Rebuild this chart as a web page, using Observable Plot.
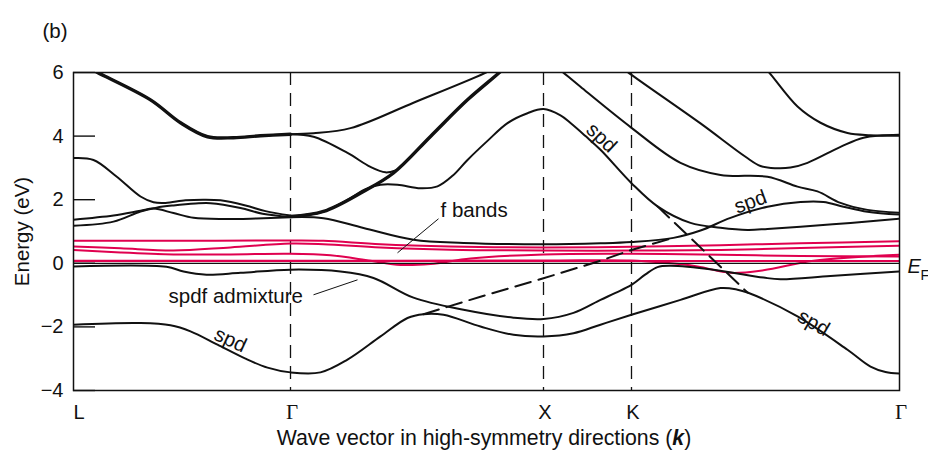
<!DOCTYPE html>
<html><head><meta charset="utf-8">
<script src="https://cdn.jsdelivr.net/npm/d3@7"></script>
<script src="https://cdn.jsdelivr.net/npm/@observablehq/plot@0.6"></script>
<style>body{margin:0;background:#fff;} #chart svg{display:block;}</style>
</head><body><div id="chart"></div>
<script>
// High-symmetry points (k in arbitrary path units) and labels
const symLabels = ["L", "Γ", "X", "K", "Γ"];
const symK = [0, 217, 470, 558, 826];
const yTicks = [-4, -2, 0, 2, 4, 6];

// Black (spd) bands: [k, E in eV]
const bandTopLeft = [[12,6.2],[24,6.0],[77,5.14],[107,4.42],[134,3.98],[160,3.95],[187,4.01],[217,4.06]];
const bandUp = [[217,4.06],[240,4.09],[277,4.25],[340,5.05],[414,6.02],[427,6.25]];
const bandDown = [[217,4.06],[240,3.98],[274,3.47],[297,3.03],[312,2.86],[322,2.92]];
const bandSteep = [[217,1.47],[250,1.63],[290,2.26],[320,2.84],[357,3.99],[394,5.14],[427,6.03],[434,6.25]];
const bandXPeak = [[217,1.47],[250,1.63],[277,2.05],[292,2.33],[307,2.47],[324,2.47],[347,2.36],[364,2.42],[379,2.75],[394,3.25],[414,3.85],[434,4.41],[454,4.72],[470,4.85],[487,4.65],[497,4.41],[512,4.0],[527,3.57],[558,2.52],[584,1.79],[617,1.27],[647,1.12],[674,1.05],[694,1.08],[727,1.15],[777,1.27],[826,1.4]];
const bandL1 = [[0,3.31],[20,3.25],[43,2.73],[67,2.1],[80,1.92],[92,1.9],[112,1.98],[130,2.0],[147,1.98],[172,1.82],[192,1.64],[217,1.5]];
const bandL2 = [[0,1.37],[40,1.5],[67,1.65],[80,1.72],[100,1.58],[120,1.43],[150,1.39],[183,1.41],[217,1.45]];
const bandL3 = [[0,1.18],[40,1.31],[67,1.63],[83,1.75],[100,1.82],[122,1.88],[137,1.89],[167,1.74],[189,1.56],[217,1.46]];
const bandB1 = [[217,1.45],[250,1.42],[290,1.11],[340,0.74],[390,0.64],[470,0.6],[527,0.63],[558,0.67],[600,0.8],[627,1.03],[657,1.43],[694,1.78],[727,1.93],[750,1.93],[770,1.78],[794,1.62],[826,1.53]];
const bandTK = [[482,6.2],[489,6.02],[507,5.55],[558,4.26],[607,3.16],[647,2.78],[694,2.72],[724,2.41],[744,2.26],[767,1.9],[794,1.68],[826,1.59]];
const bandTR1 = [[547,6.2],[554,6.02],[627,4.4],[672,3.35],[687,3.06],[702,2.99],[717,3.01],[734,3.16],[767,3.66],[790,3.95],[826,4.04]];
const bandTR2 = [[689,6.2],[695,6.02],[724,4.93],[747,4.42],[774,4.1],[797,4.03],[826,4.01]];
const bandS1 = [[0,-0.1],[93,-0.11],[110,-0.26],[133,-0.36],[167,-0.3],[217,-0.2],[267,-0.26],[300,-0.46],[340,-1.08],[390,-1.46],[440,-1.71],[470,-1.75],[500,-1.56],[527,-1.15],[542,-0.93],[558,-0.68],[572,-0.35],[584,-0.12],[597,-0.08],[640,-0.2],[690,-0.45],[707,-0.5],[757,-0.4],[826,-0.26]];
const bandS2 = [[0,-1.93],[67,-1.88],[97,-1.95],[117,-2.14],[144,-2.56],[172,-3.0],[194,-3.28],[217,-3.43],[247,-3.43],[274,-3.03],[307,-2.3],[334,-1.72],[350,-1.6],[370,-1.62],[407,-1.99],[440,-2.25],[470,-2.3],[500,-2.2],[527,-1.93],[558,-1.62],[607,-1.15],[647,-0.78],[664,-0.83],[674,-0.92],[724,-1.67],[774,-2.72],[797,-3.25],[812,-3.42],[826,-3.47]];
// Dashed (unhybridized spd) bands
const dashed1 = [[350,-1.6],[407,-1.05],[470,-0.47],[527,0.08],[558,0.42],[600,0.8]];
const dashed2 = [[584,1.79],[674,-0.92]];
// f bands (red)
const fBand1 = [[0,0.71],[127,0.71],[217,0.72],[250,0.71],[307,0.6],[377,0.53],[470,0.5],[558,0.52],[647,0.57],[727,0.63],[826,0.69]];
const fBand2 = [[0,0.53],[47,0.47],[100,0.4],[157,0.5],[217,0.62],[250,0.6],[307,0.5],[377,0.43],[470,0.4],[558,0.4],[647,0.42],[727,0.48],[826,0.55]];
const fBand3 = [[0,0.42],[47,0.34],[100,0.28],[157,0.28],[217,0.3],[257,0.25],[297,0.08],[327,-0.05],[357,-0.02],[397,0.15],[470,0.28],[558,0.3],[647,0.27],[727,0.23],[826,0.21]];
const fBand4 = [[0,0.08],[217,0.08],[470,0.09],[558,0.09],[587,0.03],[624,-0.1],[657,-0.3],[690,-0.22],[740,0.08],[826,0.27]];
const fBand5 = [[0,0.07],[826,0.07]];

// Annotations
const spdK = [157, 528, 677, 740];
const spdE = [-2.41, 3.95, 1.93, -1.87];
const spdAngle = [25, 43, -20, 30];
const noteText = ["f bands", "spdf admixture"];
const noteK = [367, 95];
const noteE = [1.66, -1.03];
const pointerK1 = [365, 240], pointerE1 = [1.4, -0.99];
const pointerK2 = [324, 284], pointerE2 = [0.33, -0.52];
const xTitle = "Wave vector in high-symmetry directions (k)";
const yTitle = "Energy (eV)";

const ink = "#111";
const red = "#e0004f";
const font = "'Liberation Sans', Arial, Helvetica, sans-serif";
const tickLen = 22; // inward tick length (k units = px here)

const band = (pts, o = {}) => Plot.line(pts, {x: d => d[0], y: d => d[1], curve: "catmull-rom", stroke: ink, strokeWidth: 2, clip: true, ...o});

const blackBands = [bandTopLeft, bandUp, bandDown, bandSteep, bandXPeak, bandL1, bandL2, bandL3, bandB1, bandTK, bandTR1, bandTR2, bandS1, bandS2];
const fBands = [fBand1, fBand2, fBand3, fBand4, fBand5];
const yMid = (yTicks[0] + yTicks[yTicks.length - 1]) / 2;

const chart = Plot.plot({
  width: 928, height: 454,
  marginLeft: 73, marginRight: 29, marginTop: 72, marginBottom: 64,
  x: {domain: [symK[0], symK[4]], axis: null},
  y: {domain: [yTicks[0], yTicks[yTicks.length - 1]], axis: null},
  style: {fontFamily: font, fontSize: "20px", color: ink, background: "white", overflow: "visible"},
  marks: [
    Plot.ruleX(symK.slice(1, 4), {stroke: ink, strokeWidth: 1.3, strokeDasharray: "13,8"}),
    ...fBands.map(b => band(b, {stroke: red, strokeWidth: 2})),
    Plot.ruleY([0], {stroke: ink, strokeWidth: 1.3}),
    ...blackBands.map(b => band(b)),
    band(bandTopLeft, {strokeWidth: 3.4}),
    band(bandSteep, {strokeWidth: 3.4}),
    band(dashed1, {curve: "linear", strokeDasharray: "16,8"}),
    band(dashed2, {curve: "linear", strokeDasharray: "16,8"}),
    Plot.frame({stroke: ink, strokeWidth: 1.5}),
    Plot.ruleY(yTicks, {y: d => d, x1: () => symK[0], x2: () => symK[0] + tickLen, stroke: ink, strokeWidth: 1.4}),
    Plot.axisY(yTicks, {tickSize: 0, tickPadding: 10, label: null, fontSize: 20}),
    Plot.axisX([symK[0]], {tickSize: 0, tickPadding: 14, tickFormat: () => symLabels[0], textAnchor: "start", label: null, fontSize: 20}),
    Plot.axisX([symK[2], symK[3]], {tickSize: 0, tickPadding: 14, tickFormat: d => symLabels[symK.indexOf(d)], label: null, fontSize: 20, dx: 1.5}),
    Plot.axisX([symK[1], symK[4]], {tickSize: 0, tickPadding: 14, tickFormat: d => symLabels[symK.indexOf(d)], label: null, fontSize: 21, dx: 1.5, fontFamily: "'Liberation Serif', 'Times New Roman', serif"}),
    Plot.text([xTitle], {frameAnchor: "bottom", dy: 54, dx: -2.5, fontSize: 21.3}),
    Plot.text([yTitle], {x: () => symK[0], y: () => yMid, text: d => d, textAnchor: "middle", rotate: -90, dx: -51, fontSize: 20.5}),
    Plot.text(["(b)"], {frameAnchor: "top-left", textAnchor: "start", dx: -31, dy: -49, fontSize: 20.5}),
    Plot.text([0], {y: d => d, text: () => "E", frameAnchor: "right", textAnchor: "start", dx: 8, dy: 3, fontStyle: "italic", fontSize: 20}),
    Plot.text([0], {y: d => d, text: () => "F", frameAnchor: "right", textAnchor: "start", dx: 21, dy: 12, fontSize: 14}),
    Plot.text(spdK, {x: d => d, y: (d, i) => spdE[i], rotate: (d, i) => spdAngle[i], text: () => "spd", fontSize: 20.5}),
    Plot.text(noteText, {x: (d, i) => noteK[i], y: (d, i) => noteE[i], text: d => d, textAnchor: "start", fontSize: 20.5}),
    Plot.link(pointerK1, {x1: d => d, y1: (d, i) => pointerE1[i], x2: (d, i) => pointerK2[i], y2: (d, i) => pointerE2[i], stroke: ink, strokeWidth: 1})
  ]
});

// Style the bold-italic k in the x-axis title
for (const t of chart.querySelectorAll("text")) {
  if (t.textContent === xTitle) {
    const ns = "http://www.w3.org/2000/svg";
    t.textContent = "Wave vector in high-symmetry directions (";
    const k = document.createElementNS(ns, "tspan");
    k.setAttribute("font-weight", "bold");
    k.setAttribute("font-style", "italic");
    k.textContent = "k";
    t.appendChild(k);
    t.appendChild(document.createTextNode(")"));
  }
}
document.getElementById("chart").appendChild(chart);
</script>
</body></html>
